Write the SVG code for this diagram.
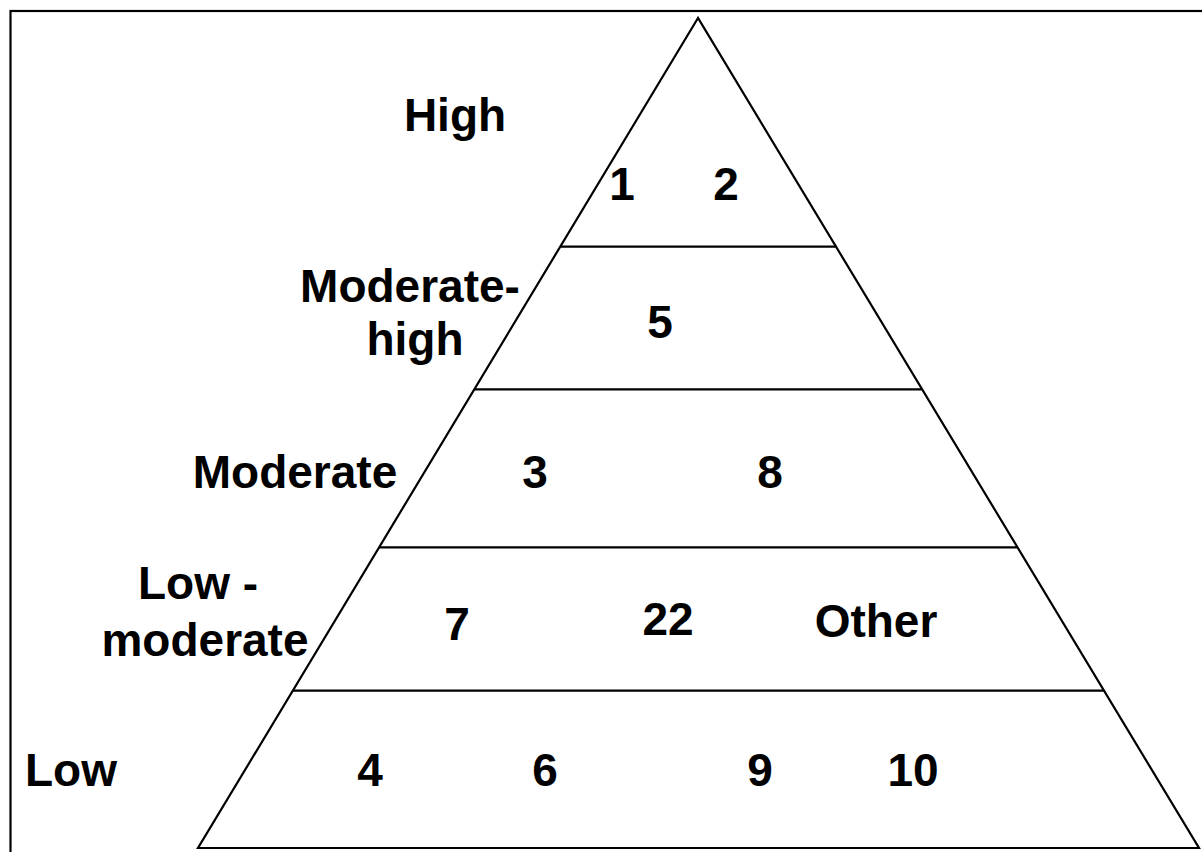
<svg xmlns="http://www.w3.org/2000/svg" width="1202" height="852" viewBox="0 0 1202 852">
<style>
.t{font-family:"Liberation Sans",Arial,sans-serif;font-weight:bold;font-size:46px;fill:#000;text-anchor:middle}
.ln{stroke:#000;stroke-width:2.2;fill:none}
</style>
<rect x="0" y="0" width="1202" height="852" fill="#fff"/>
<g id="frame"><rect x="10.5" y="11" width="1200" height="860" class="ln" stroke-width="2.5"/></g>
<g id="pyramid">
<polygon points="698,18 198,848 1199,848" class="ln"/>
</g>
<g id="connectors">
<line x1="560" y1="246.7" x2="836.7" y2="246.7" class="ln"/>
<line x1="474.5" y1="389.3" x2="921.5" y2="389.3" class="ln"/>
<line x1="379.5" y1="547.3" x2="1017" y2="547.3" class="ln"/>
<line x1="293" y1="690.7" x2="1104" y2="690.7" class="ln"/>
</g>
<g id="level-high"><text class="t" x="455" y="131">High</text></g>
<g id="n1"><text class="t" x="622" y="200">1</text></g>
<g id="n2"><text class="t" x="726" y="200">2</text></g>
<g id="level-modhigh"><text class="t" x="410" y="301.7">Moderate-</text><text class="t" x="415" y="355">high</text></g>
<g id="n5"><text class="t" x="660" y="338">5</text></g>
<g id="level-moderate"><text class="t" x="295" y="488">Moderate</text></g>
<g id="n3"><text class="t" x="535" y="488">3</text></g>
<g id="n8"><text class="t" x="770" y="488">8</text></g>
<g id="level-lowmod"><text class="t" x="198" y="599">Low -</text><text class="t" x="205" y="656">moderate</text></g>
<g id="n7"><text class="t" x="457" y="640">7</text></g>
<g id="n22"><text class="t" x="668" y="635">22</text></g>
<g id="nother"><text class="t" x="876" y="637">Other</text></g>
<g id="level-low"><text class="t" x="71" y="786">Low</text></g>
<g id="n4"><text class="t" x="370" y="786">4</text></g>
<g id="n6"><text class="t" x="545" y="786">6</text></g>
<g id="n9"><text class="t" x="760" y="786">9</text></g>
<g id="n10"><text class="t" x="913" y="786">10</text></g>
</svg>
